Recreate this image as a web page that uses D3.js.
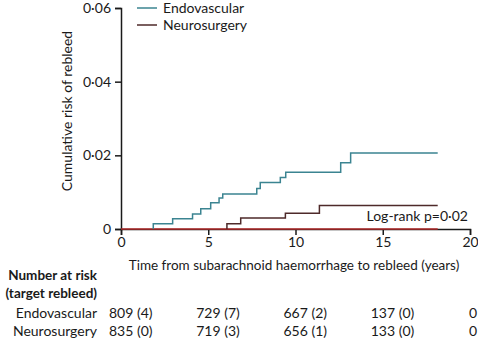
<!DOCTYPE html>
<html>
<head>
<meta charset="utf-8">
<script src="https://cdn.jsdelivr.net/npm/d3@7"></script>
<style>
  body { margin: 0; background: #fff; }
  text { font-family: Lato, "Open Sans", sans-serif; fill: #1a1a1a; }
</style>
</head>
<body>
<div id="plot"></div>
<script>
// step data: [time (years), cumulative risk]
let endoSteps = [[0, 0], [1.85, 0.0014], [2.96, 0.0028], [4.1, 0.0041], [4.57, 0.0055],
  [5.14, 0.0071], [5.62, 0.0084], [5.83, 0.0095], [7.78, 0.011], [7.98, 0.0126],
  [9.13, 0.014], [9.44, 0.0154], [12.59, 0.018], [13.16, 0.0206], [18.15, 0.0206]]
let neuroSteps = [[0, 0], [6.07, 0.0014], [6.86, 0.003], [9.42, 0.0043], [11.37, 0.0064], [18.15, 0.0064]]

let xTicks = [0, 5, 10, 15, 20]
let yTicks = [0, 0.02, 0.04, 0.06]
let groups = ['Endovascular', 'Neurosurgery']
let colors = ['#3b8491', '#4e2a2a']
let riskEndo = ['809 (4)', '729 (7)', '667 (2)', '137 (0)', '0']
let riskNeuro = ['835 (0)', '719 (3)', '656 (1)', '133 (0)', '0']

let width = 478, height = 340

let svg = d3.select('#plot').append('svg')
  .attr('width', width)
  .attr('height', height)

let x = d3.scaleLinear().domain([0, 20]).range([121, 470])
let y = d3.scaleLinear().domain([0, 0.06]).range([229, 8])

let fmt = d => d === 0 ? '0' : d.toFixed(2).replace('.', '·')

// y axis
let yAxis = svg.append('g')
  .attr('transform', 'translate(121,0)')
  .call(d3.axisLeft(y).tickValues(yTicks).tickFormat(fmt).tickSize(6).tickPadding(4))
yAxis.select('.domain').attr('stroke', '#1a1a1a').attr('stroke-width', 1.5)
yAxis.selectAll('.tick line').attr('stroke', '#1a1a1a').attr('stroke-width', 1.5)
yAxis.selectAll('text').style('font-size', '14px').style('font-family', 'Lato, sans-serif')

// x axis
let xAxis = svg.append('g')
  .attr('transform', 'translate(0,229)')
  .call(d3.axisBottom(x).tickValues(xTicks).tickFormat(d3.format('d')).tickSize(6).tickPadding(2))
xAxis.select('.domain').attr('stroke', '#1a1a1a').attr('stroke-width', 1.5)
xAxis.selectAll('.tick line').attr('stroke', '#1a1a1a').attr('stroke-width', 1.5)
xAxis.selectAll('text').style('font-size', '14px').style('font-family', 'Lato, sans-serif')

// red baseline
svg.append('line')
  .attr('x1', x(0)).attr('x2', x(18.15))
  .attr('y1', y(0)).attr('y2', y(0))
  .attr('stroke', '#b02a2a')
  .attr('stroke-width', 1.5)

let line = d3.line()
  .x(d => x(d[0]))
  .y(d => y(d[1]))
  .curve(d3.curveStepAfter)

// curves start where they leave zero
svg.append('path')
  .attr('d', line([[neuroSteps[1][0], 0]].concat(neuroSteps.slice(1))))
  .attr('fill', 'none')
  .attr('stroke', colors[1])
  .attr('stroke-width', 1.5)

svg.append('path')
  .attr('d', line([[endoSteps[1][0], 0]].concat(endoSteps.slice(1))))
  .attr('fill', 'none')
  .attr('stroke', colors[0])
  .attr('stroke-width', 1.5)

// legend
groups.forEach(function(g, i) {
  svg.append('line')
    .attr('x1', 137).attr('x2', 157)
    .attr('y1', 8 + i * 17).attr('y2', 8 + i * 17)
    .attr('stroke', colors[i])
    .attr('stroke-width', 1.5)
  svg.append('text')
    .attr('x', 163)
    .attr('y', 13 + i * 17)
    .style('font-size', '14px')
    .text(g)
})

// axis titles
svg.append('text')
  .attr('transform', 'translate(72,111) rotate(-90)')
  .attr('text-anchor', 'middle')
  .style('font-size', '14px')
  .text('Cumulative risk of rebleed')

svg.append('text')
  .attr('x', 294)
  .attr('y', 270)
  .attr('text-anchor', 'middle')
  .style('font-size', '13.5px')
  .text('Time from subarachnoid haemorrhage to rebleed (years)')

svg.append('text')
  .attr('x', 468)
  .attr('y', 221)
  .attr('text-anchor', 'end')
  .style('font-size', '14px')
  .text('Log-rank p=0·02')

// number at risk table
svg.append('text')
  .attr('x', 97).attr('y', 280)
  .attr('text-anchor', 'end')
  .style('font-size', '13.5px')
  .style('font-weight', 'bold')
  .text('Number at risk')
svg.append('text')
  .attr('x', 97).attr('y', 298)
  .attr('text-anchor', 'end')
  .style('font-size', '13.5px')
  .style('font-weight', 'bold')
  .text('(target rebleed)')

let rows = [riskEndo, riskNeuro]
rows.forEach(function(r, i) {
  let yy = 318 + i * 18
  svg.append('text')
    .attr('x', 97).attr('y', yy)
    .attr('text-anchor', 'end')
    .style('font-size', '14px')
    .text(groups[i])
  r.forEach(function(v, j) {
    let last = j === r.length - 1
    svg.append('text')
      .attr('x', last ? 477 : x(xTicks[j]) - 12)
      .attr('y', yy)
      .attr('text-anchor', last ? 'end' : 'start')
      .style('font-size', '14px')
      .text(v)
  })
})
</script>
</body>
</html>
